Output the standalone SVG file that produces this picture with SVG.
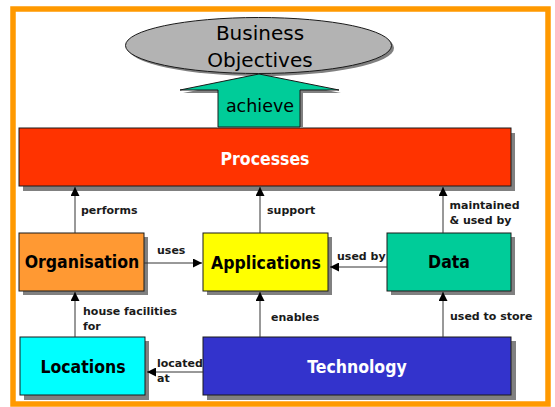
<svg xmlns="http://www.w3.org/2000/svg" width="555" height="407" viewBox="0 0 555 407">
  <defs>
    <style>
      .box { stroke: #1a1a1a; stroke-width: 1; }
      .shadow { fill: #808080; }
      .big { font-family: "DejaVu Sans Condensed", "DejaVu Sans", sans-serif; font-stretch: condensed; font-weight: bold; font-size: 17.5px; text-anchor: middle; }
      .lbl { font-family: "DejaVu Sans", sans-serif; font-weight: bold; font-size: 11px; fill: #1a1a1a; }
      .reg { font-family: "DejaVu Sans", sans-serif; fill: #000; text-anchor: middle; }
      .link { stroke: #333; stroke-width: 1; fill: none; marker-end: url(#head); }
    </style>
    <marker id="head" markerUnits="userSpaceOnUse" markerWidth="10" markerHeight="9" refX="9" refY="4.5" orient="auto">
      <path d="M0,0 L9,4.5 L0,9 Z" fill="#000"/>
    </marker>
  </defs>

  <rect width="555" height="407" fill="#fff"/>
  <!-- outer frame -->
  <rect x="13" y="9" width="535" height="395" fill="none" stroke="#ff9900" stroke-width="5.5"/>

  <!-- business objectives ellipse -->
  <g id="objectives">
    <ellipse cx="261" cy="48" rx="133" ry="28" class="shadow"/>
    <ellipse cx="258.5" cy="45.5" rx="133" ry="28" fill="#b3b3b3" class="box"/>
    <text class="reg" x="260" y="40" font-size="20">Business</text>
    <text class="reg" x="260" y="67" font-size="20">Objectives</text>
  </g>

  <!-- achieve block arrow -->
  <g id="achieve">
    <polygon points="262,77 341,93 303,93 303,127 221,127 221,93 183,93" class="shadow"/>
    <polygon points="259,74 339,90 300,90 300,127 218,127 218,90 180,90" fill="#00cc99" class="box"/>
    <text class="reg" x="260" y="111.5" font-size="17.5">achieve</text>
  </g>

  <g id="processes">
    <rect x="23" y="133" width="492" height="58" class="shadow"/>
    <rect x="19" y="128" width="492" height="58" fill="#ff3300" class="box"/>
    <text class="big" x="265" y="164.5" fill="#fff">Processes</text>
  </g>

  <g id="organisation">
    <rect x="23" y="237" width="125" height="58" class="shadow"/>
    <rect x="19" y="233" width="125" height="58" fill="#ff9933" class="box"/>
    <text class="big" x="82" y="268">Organisation</text>
  </g>

  <g id="applications">
    <rect x="207" y="237" width="125" height="58" class="shadow"/>
    <rect x="203" y="233" width="125" height="58" fill="#ffff00" class="box"/>
    <text class="big" x="266" y="269">Applications</text>
  </g>

  <g id="data">
    <rect x="391" y="237" width="124" height="58" class="shadow"/>
    <rect x="387" y="233" width="124" height="58" fill="#00cc99" class="box"/>
    <text class="big" x="449" y="268">Data</text>
  </g>

  <g id="locations">
    <rect x="24" y="341" width="125" height="59" class="shadow"/>
    <rect x="20" y="337" width="125" height="58" fill="#00ffff" class="box"/>
    <text class="big" x="83" y="373">Locations</text>
  </g>

  <g id="technology">
    <rect x="207" y="341" width="309" height="59" class="shadow"/>
    <rect x="203" y="337" width="308" height="58" fill="#3333cc" class="box"/>
    <text class="big" x="357" y="373" fill="#fff">Technology</text>
  </g>

  <!-- connectors -->
  <g id="connectors">
    <line class="link" x1="75" y1="233" x2="75" y2="187"/>
    <line class="link" x1="260" y1="233" x2="260" y2="187"/>
    <line class="link" x1="443" y1="233" x2="443" y2="187"/>
    <line class="link" x1="144" y1="263" x2="202" y2="263"/>
    <line class="link" x1="387" y1="267" x2="330" y2="267"/>
    <line class="link" x1="75" y1="337" x2="75" y2="292"/>
    <line class="link" x1="260" y1="337" x2="260" y2="292"/>
    <line class="link" x1="443" y1="337" x2="443" y2="292"/>
    <line class="link" x1="203" y1="372" x2="147" y2="372"/>

    <text class="lbl" x="81" y="214">performs</text>
    <text class="lbl" x="267" y="213.5">support</text>
    <text class="lbl" x="449.5" y="209.3">maintained</text>
    <text class="lbl" x="449.5" y="224.3">&amp; used by</text>
    <text class="lbl" x="157" y="254.3">uses</text>
    <text class="lbl" x="337" y="260">used by</text>
    <text class="lbl" x="83" y="314.5">house facilities</text>
    <text class="lbl" x="83" y="329.5">for</text>
    <text class="lbl" x="271" y="321">enables</text>
    <text class="lbl" x="450" y="320">used to store</text>
    <text class="lbl" x="157" y="366.7">located</text>
    <text class="lbl" x="157" y="381.7">at</text>
  </g>
</svg>
